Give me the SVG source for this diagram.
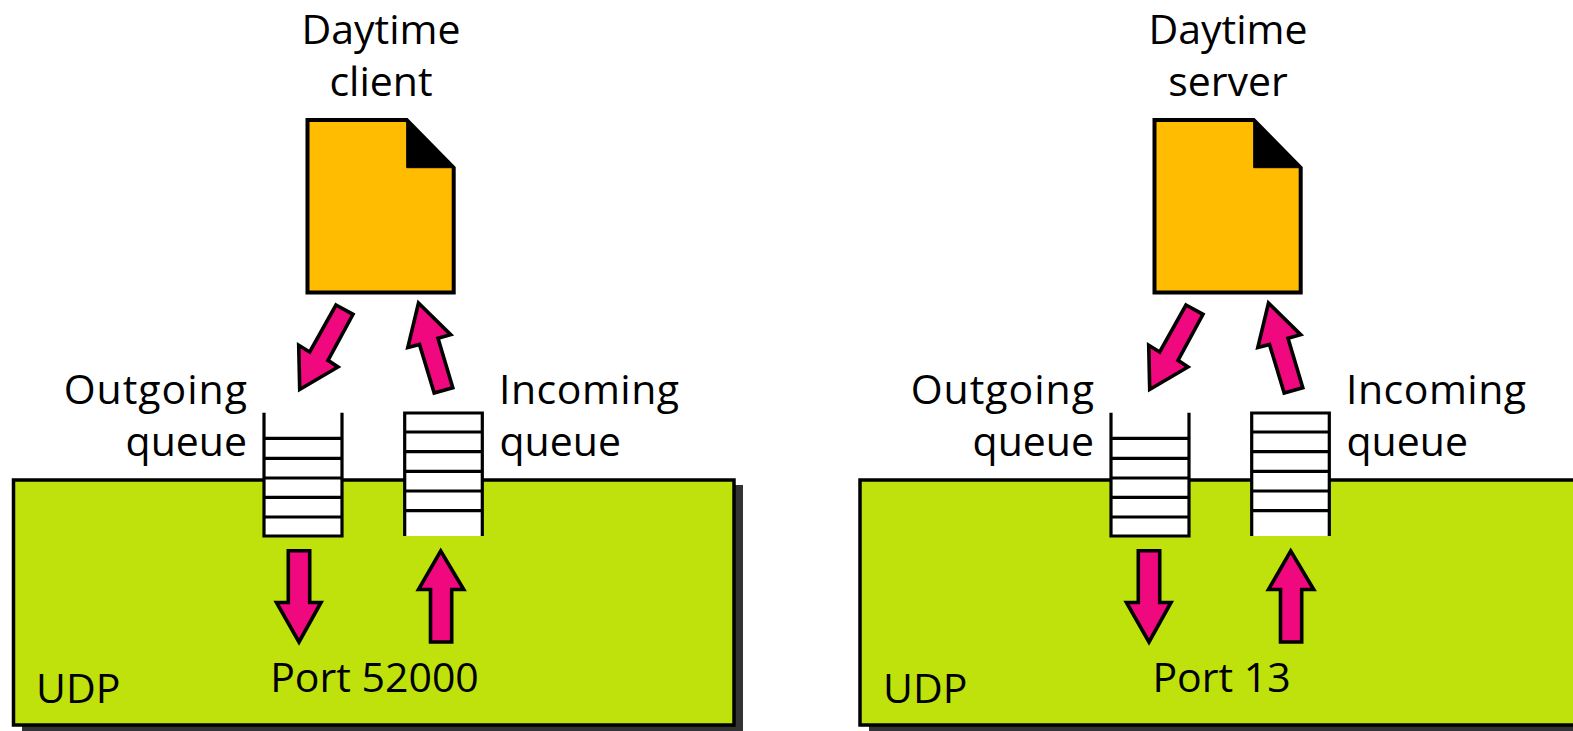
<svg xmlns="http://www.w3.org/2000/svg" width="1573" height="731" viewBox="0 0 1573 731">
<style>
text{font-family:"Open Sans","Noto Sans","Liberation Sans",sans-serif;font-size:41px;fill:#000}
.m{text-anchor:middle}.e{text-anchor:end}
.o{letter-spacing:1px}.i{letter-spacing:.5px}
.box{fill:#bfe20c;stroke:#000;stroke-width:3.500}
.shadow{fill:#333}
.doc{fill:#ffbc00;stroke:#000;stroke-width:4}
.fold{fill:#000;stroke:#000;stroke-width:1}
.q{fill:#fff;stroke:none}
.ql{fill:none;stroke:#000;stroke-width:3.200}
.arrow{fill:#f0087e;stroke:#000;stroke-width:3.600}
</style>
<defs>
<g id="outgoing-queue">
<rect class="q" x="264" y="478" width="78" height="58"/>
<path class="ql" d="M264 412.700V536H342V412.700M264 438.300H342M264 458.300H342M264 478H342M264 497.300H342M264 517H342"/>
</g>
<g id="incoming-queue">
<rect class="q" x="404.700" y="413" width="77.600" height="123"/>
<path class="ql" d="M404.700 536V413H482.300V536M404.700 432H482.300M404.700 451.700H482.300M404.700 471.300H482.300M404.700 491H482.300M404.700 510.700H482.300"/>
</g>
<polygon id="a1" class="arrow" points="336,305 353,314.300 328,360.300 338,367 299.700,389.500 298.700,345.300 309.700,352"/>
<polygon id="a2" class="arrow" points="418.500,303 450.700,334.700 438,338.300 452.800,387.700 434.200,393.100 419.500,344.500 407.800,347.600"/>
<polygon id="a3" class="arrow" points="288.300,550.700 309.700,550.700 309.700,602.500 321,602.500 299,642 276.500,602.500 288.300,602.500"/>
<polygon id="a4" class="arrow" points="440.700,551 463.700,589.500 451.700,589.500 451.700,642 430.500,642 430.500,589.500 418.500,589.500"/>
</defs>

<g id="client-side">
<g id="udp-client">
<rect class="shadow" x="22" y="485" width="721" height="246"/>
<rect class="box" x="13.500" y="480" width="720.500" height="245"/>
<text x="36" y="703">UDP</text>
<text class="m" x="374.500" y="692">Port 52000</text>
</g>
<g id="client-app">
<path class="doc" d="M307.500 120H406.700L453.700 167.700V292.500H307.500Z"/>
<path class="fold" d="M406.700 120L453.700 167.700H406.700Z"/>
<text class="m" x="381" y="44">Daytime</text>
<text class="m" x="381" y="96">client</text>
</g>
<g id="client-outgoing">
<use href="#outgoing-queue"/>
<text class="e o" x="248" y="404">Outgoing</text>
<text class="e" x="247" y="456">queue</text>
</g>
<g id="client-incoming">
<use href="#incoming-queue"/>
<text class="i" x="499" y="404">Incoming</text>
<text x="499.500" y="456">queue</text>
</g>
</g>

<g id="server-side" transform="translate(847 0)">
<g id="udp-server">
<rect class="shadow" x="22" y="485" width="721" height="246"/>
<rect class="box" x="13" y="480" width="720.500" height="245"/>
<text x="36" y="703">UDP</text>
<text class="m" x="374.500" y="692">Port 13</text>
</g>
<g id="server-app">
<path class="doc" d="M307.500 120H406.700L453.700 167.700V292.500H307.500Z"/>
<path class="fold" d="M406.700 120L453.700 167.700H406.700Z"/>
<text class="m" x="381" y="44">Daytime</text>
<text class="m" x="381" y="96">server</text>
</g>
<g id="server-outgoing">
<use href="#outgoing-queue"/>
<text class="e o" x="248" y="404">Outgoing</text>
<text class="e" x="247" y="456">queue</text>
</g>
<g id="server-incoming">
<use href="#incoming-queue"/>
<text class="i" x="499" y="404">Incoming</text>
<text x="499.500" y="456">queue</text>
</g>
</g>

<g id="connectors">
<use href="#a1"/><use href="#a2"/><use href="#a3"/><use href="#a4"/>
<g transform="translate(850 0)"><use href="#a1"/><use href="#a2"/><use href="#a3"/><use href="#a4"/></g>
</g>
</svg>
